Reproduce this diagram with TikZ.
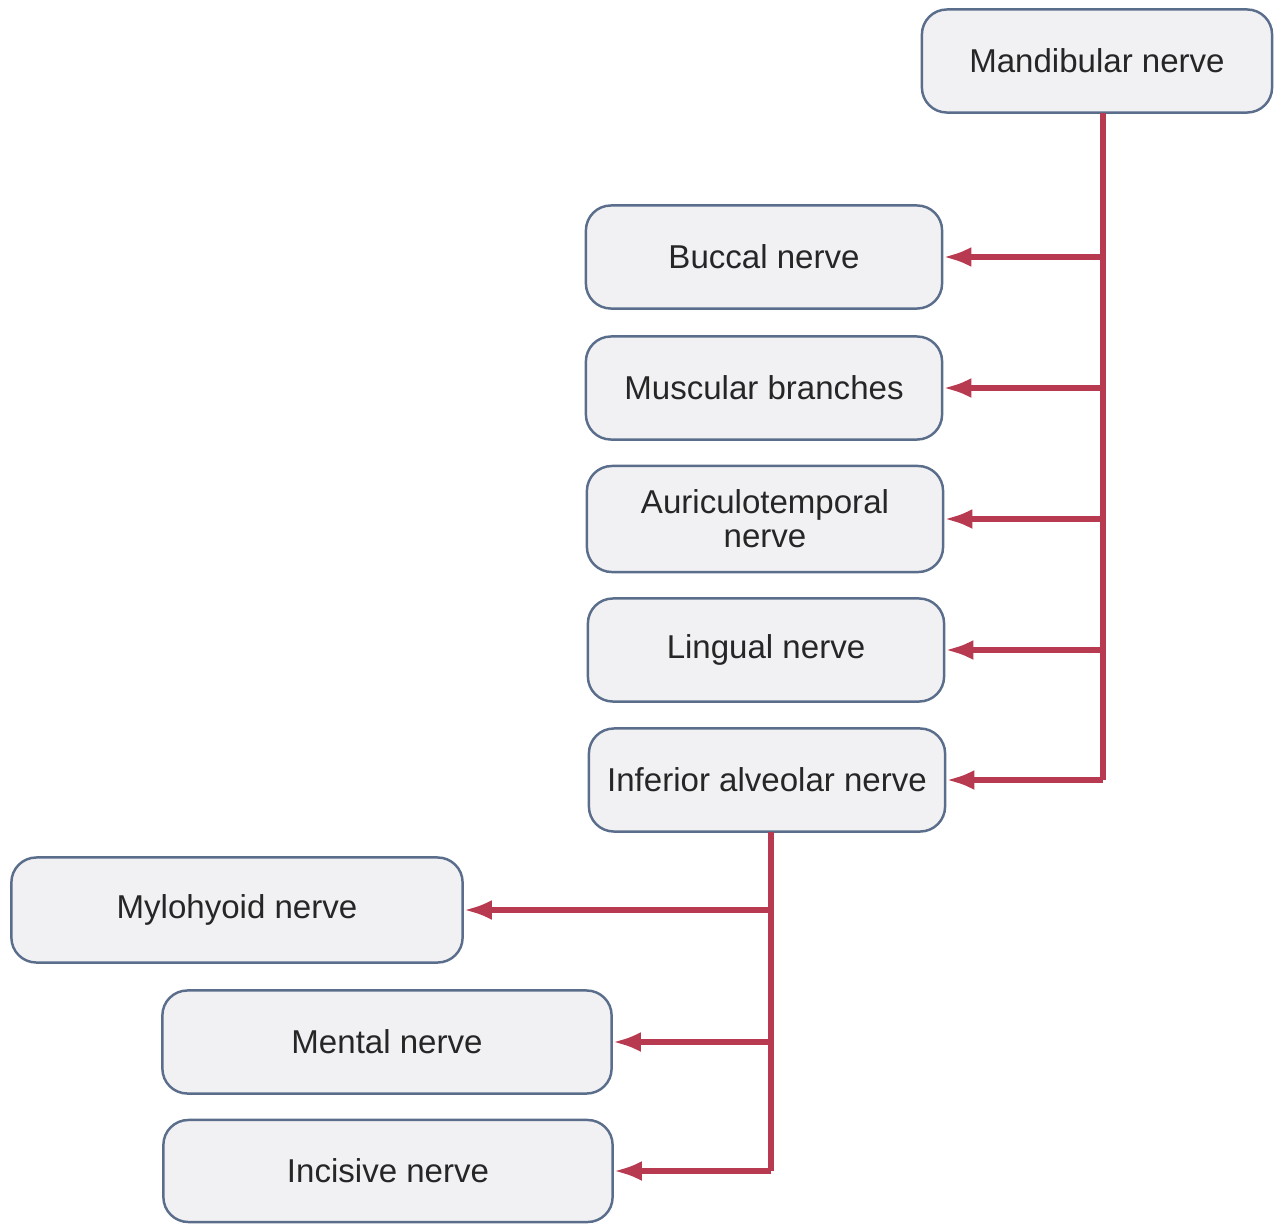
\documentclass[tikz,border=0pt]{standalone}
\usepackage{fontspec}
\setmainfont{Liberation Sans}
\usetikzlibrary{arrows.meta}
\definecolor{nervered}{RGB}{184,58,80}
\definecolor{boxline}{RGB}{90,110,140}
\definecolor{boxfill}{RGB}{241,241,244}
\begin{document}
\begin{tikzpicture}[x=0.01cm,y=-0.01cm,
    nbox/.style={draw=boxline,line width=0.7pt,fill=boxfill,rounded corners=0.25cm,
      minimum width=3.56cm,minimum height=1.03cm,align=center,
      font=\fontsize{9.4}{9.7}\selectfont,text=black!85},
    branch/.style={draw=nervered,line width=1.5pt},
    tip/.style={branch,-{Latex[length=2.8mm,width=2mm]}}]
    \useasboundingbox (0,0) rectangle (1275,1224);
    \node[nbox,minimum width=3.5cm] (mand) at (1097,61) {Mandibular nerve};
    \node[nbox] (buccal) at (764,257) {Buccal nerve};
    \node[nbox] (musc) at (764,388) {Muscular branches};
    \node[nbox,minimum height=1.06cm] (auric) at (765,519) {Auriculotemporal\\nerve};
    \node[nbox] (ling) at (766,650) {Lingual nerve};
    \node[nbox] (inf) at (767,780) {Inferior alveolar nerve};
    \node[nbox,minimum width=4.51cm,minimum height=1.05cm] (mylo) at (237,910) {Mylohyoid nerve};
    \node[nbox,minimum width=4.49cm] (ment) at (387,1042) {Mental nerve};
    \node[nbox,minimum width=4.49cm,minimum height=1.02cm] (inc) at (388,1171) {Incisive nerve};
    % main trunk
    \coordinate (t1) at (1103,113);
    \draw[branch] (t1) -- (t1 |- inf.east);
    \foreach \n in {buccal,musc,auric,ling,inf}
      \draw[tip] (t1 |- \n.east) -- (\n.east);
    % inferior alveolar trunk
    \coordinate (t2) at (771,832);
    \draw[branch] (t2) -- (t2 |- inc.east);
    \foreach \n in {mylo,ment,inc}
      \draw[tip] (t2 |- \n.east) -- (\n.east);
\end{tikzpicture}
\end{document}
